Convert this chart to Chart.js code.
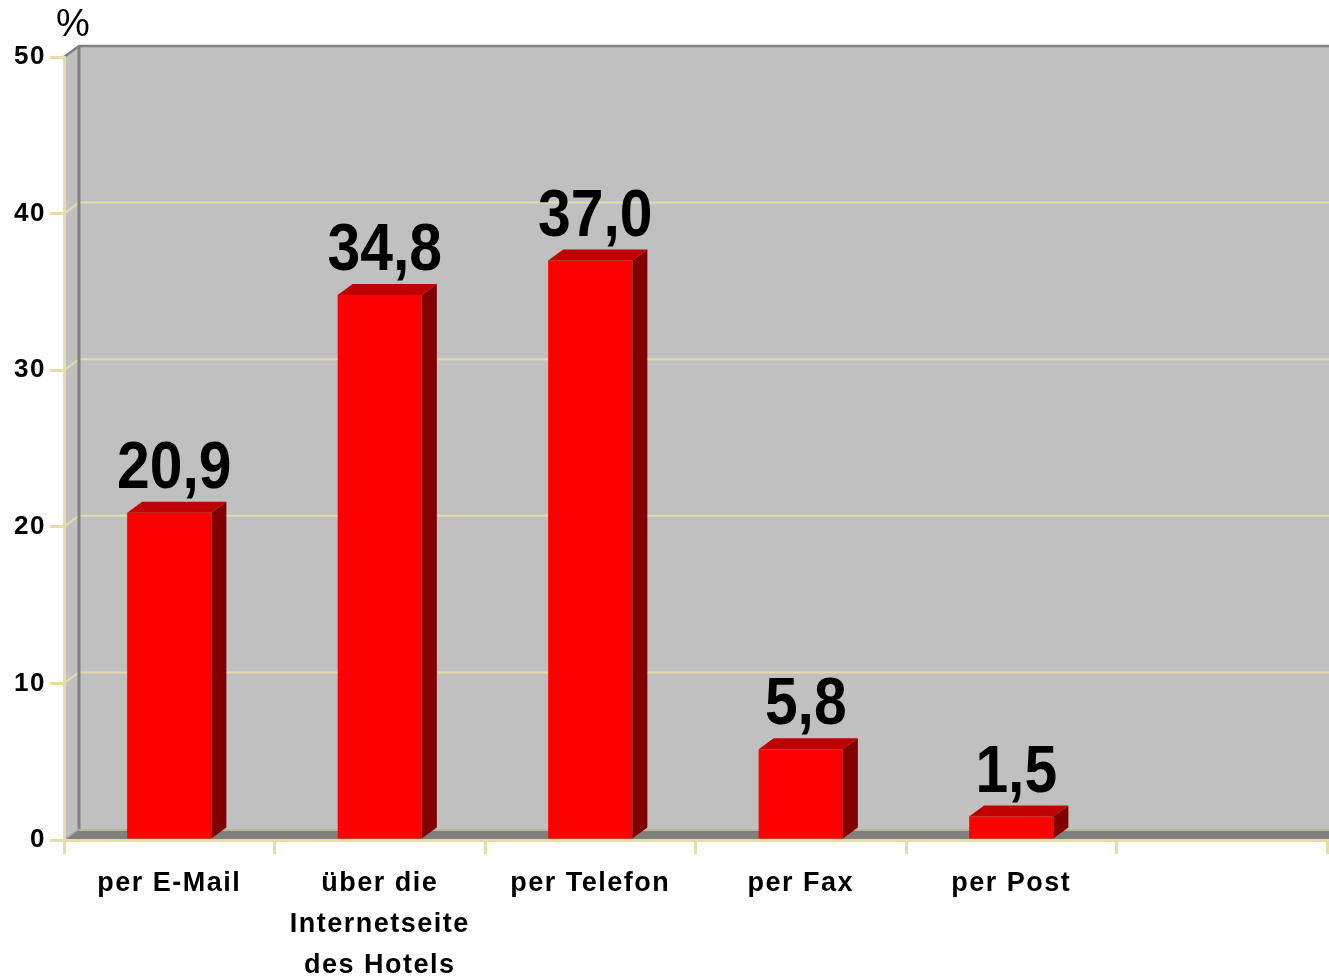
<!DOCTYPE html>
<html>
<head>
<meta charset="utf-8">
<script src="https://cdn.jsdelivr.net/npm/chart.js@4.4.1/dist/chart.umd.min.js"></script>
<style>
  body { margin: 0; background: #ffffff; }
  #wrap { width: 1329px; height: 977px; }
</style>
</head>
<body>
<div id="wrap"><canvas id="myChart" width="1329" height="977"></canvas></div>
<script>
// data
const categories = ['per E-Mail', ['über die', 'Internetseite', 'des Hotels'], 'per Telefon', 'per Fax', 'per Post', ''];
const shares = [20.9, 34.8, 37.0, 5.8, 1.5, null];
const yTicks = [0, 10, 20, 30, 40, 50];
const unitLabel = '%';

const fontFam = '"Liberation Sans", Arial, sans-serif';
const pale = '#e6dca8';
const depth = { dx: 15, dy: -11 };

function fmt(v) {
    return v.toFixed(1).replace('.', ',');
}

// walls, floor and grid of the 3d box
const boxPlugin = {
    id: 'box',
    beforeDraw(chart) {
        const ctx = chart.ctx;
        const a = chart.chartArea;
        const y = chart.scales.y;
        const dx = depth.dx, dy = depth.dy;
        const W = chart.width;

        ctx.save();
        ctx.letterSpacing = '0px';
        ctx.fillStyle = '#ffffff';
        ctx.fillRect(0, 0, W, chart.height);

        // back wall
        ctx.fillStyle = '#c0c0c0';
        ctx.fillRect(a.left + dx, a.top + dy, W - a.left - dx, a.bottom - a.top);

        // left wall
        ctx.beginPath();
        ctx.moveTo(a.left, a.top);
        ctx.lineTo(a.left + dx, a.top + dy);
        ctx.lineTo(a.left + dx, a.bottom + dy);
        ctx.lineTo(a.left, a.bottom);
        ctx.closePath();
        ctx.fill();

        // floor
        ctx.fillStyle = '#808080';
        ctx.beginPath();
        ctx.moveTo(a.left, a.bottom);
        ctx.lineTo(a.left + dx, a.bottom + dy);
        ctx.lineTo(W, a.bottom + dy);
        ctx.lineTo(W, a.bottom);
        ctx.closePath();
        ctx.fill();

        // grid lines on the walls
        yTicks.forEach(function (v) {
            const py = y.getPixelForValue(v);
            ctx.beginPath();
            if (v === 0) {
                ctx.strokeStyle = '#cfc7a6';
                ctx.lineWidth = 1.5;
                ctx.moveTo(a.left + dx, py + dy + 1);
                ctx.lineTo(W, py + dy + 1);
            } else {
                ctx.strokeStyle = pale;
                ctx.lineWidth = 2;
                ctx.moveTo(a.left, py);
                ctx.lineTo(a.left + dx, py + dy);
                ctx.lineTo(W, py + dy);
            }
            ctx.stroke();
        });

        // box edges
        ctx.strokeStyle = '#808080';
        ctx.lineWidth = 3;
        ctx.beginPath();
        ctx.moveTo(a.left + dx, a.top + dy);
        ctx.lineTo(a.left + dx, a.bottom + dy);
        ctx.stroke();
        ctx.lineWidth = 2.5;
        ctx.beginPath();
        ctx.moveTo(a.left, a.top);
        ctx.lineTo(a.left + dx, a.top + dy);
        ctx.lineTo(W, a.top + dy);
        ctx.stroke();
        ctx.lineWidth = 1.5;
        ctx.strokeStyle = '#a8a8a8';
        ctx.beginPath();
        ctx.moveTo(a.left, a.bottom);
        ctx.lineTo(a.left + dx, a.bottom + dy);
        ctx.stroke();

        // unit above the value axis
        ctx.fillStyle = '#000000';
        ctx.font = '38px ' + fontFam;
        ctx.textAlign = 'left';
        ctx.textBaseline = 'alphabetic';
        ctx.fillText(unitLabel, 56, 36);
        ctx.restore();

        // tick labels are a little spaced out in the picture
        ctx.letterSpacing = '1.5px';
    },
    afterDatasetsDraw(chart) {
        const ctx = chart.ctx;
        const dx = depth.dx, dy = depth.dy;
        ctx.letterSpacing = '0px';
        const meta = chart.getDatasetMeta(0);
        meta.data.forEach(function (bar, i) {
            const v = shares[i];
            if (v === null || v === undefined) return;
            const p = bar.getProps(['x', 'y', 'base', 'width'], true);
            const l = p.x - p.width / 2;
            const r = p.x + p.width / 2;
            ctx.save();
            // top face
            ctx.fillStyle = '#c00000';
            ctx.beginPath();
            ctx.moveTo(l, p.y);
            ctx.lineTo(l + dx, p.y + dy);
            ctx.lineTo(r + dx, p.y + dy);
            ctx.lineTo(r, p.y);
            ctx.closePath();
            ctx.fill();
            // side face
            ctx.fillStyle = '#800000';
            ctx.beginPath();
            ctx.moveTo(r, p.y);
            ctx.lineTo(r + dx, p.y + dy);
            ctx.lineTo(r + dx, p.base + dy);
            ctx.lineTo(r, p.base);
            ctx.closePath();
            ctx.fill();
            // value label
            ctx.translate(p.x + 5, p.y + dy - 14);
            ctx.scale(0.98, 1.12);
            ctx.fillStyle = '#000000';
            ctx.font = 'bold 60px ' + fontFam;
            ctx.textAlign = 'center';
            ctx.textBaseline = 'alphabetic';
            ctx.fillText(fmt(v), 0, 0);
            ctx.restore();
        });
    }
};

const myChart = new Chart('myChart', {
    type: 'bar',
    data: {
        labels: categories,
        datasets: [{
            data: shares,
            backgroundColor: '#ff0000',
            borderWidth: 0,
            categoryPercentage: 1.0,
            barPercentage: 0.4
        }]
    },
    options: {
        responsive: false,
        animation: false,
        layout: { padding: { top: 57, right: 2, bottom: 0, left: 0 } },
        plugins: {
            legend: { display: false },
            tooltip: { enabled: false },
            title: { display: false }
        },
        scales: {
            x: {
                offset: true,
                grid: { offset: true, drawOnChartArea: false, tickLength: 14, color: pale, lineWidth: 3 },
                border: { color: pale, width: 3 },
                ticks: {
                    color: '#000000',
                    font: { family: fontFam, size: 27, weight: 'bold', lineHeight: 1.52 },
                    padding: 9,
                    maxRotation: 0,
                    autoSkip: false
                },
                afterFit(scale) { scale.height = 137; }
            },
            y: {
                min: 0,
                max: 50,
                grid: { drawOnChartArea: false, tickLength: 14, color: pale, lineWidth: 3 },
                border: { color: pale, width: 3 },
                ticks: {
                    stepSize: 10,
                    color: '#000000',
                    font: { family: fontFam, size: 26, weight: 'bold' },
                    padding: 4
                },
                afterFit(scale) { scale.width = 64; }
            }
        }
    },
    plugins: [boxPlugin]
});
</script>
</body>
</html>
